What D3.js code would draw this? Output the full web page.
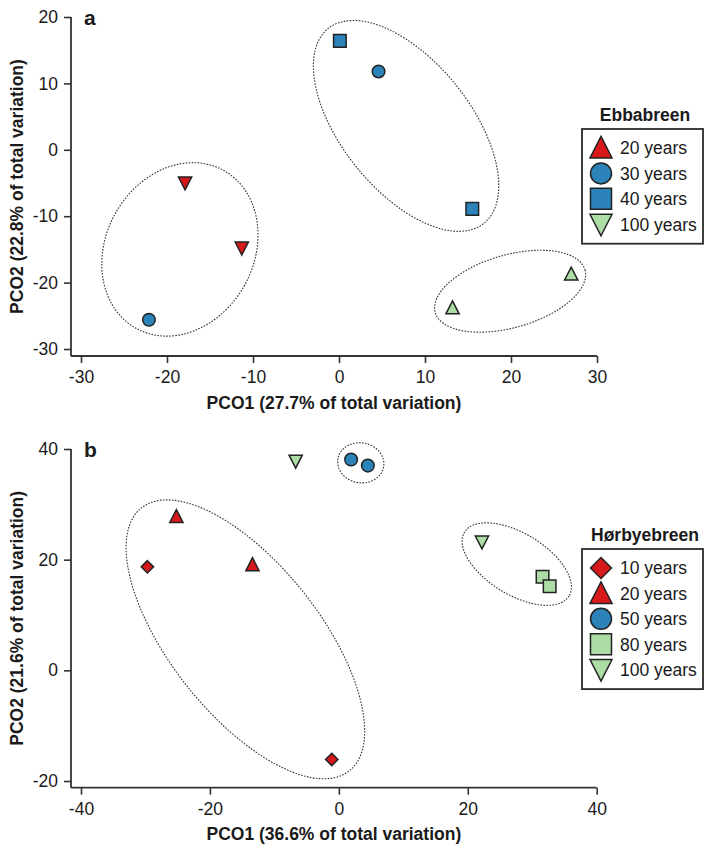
<!DOCTYPE html>
<html>
<head>
<meta charset="utf-8">
<script src="https://cdn.jsdelivr.net/npm/d3@7"></script>
<style>
body { margin: 0; background: #fff; }
text { font-family: "Liberation Sans", Arial, sans-serif; fill: #1a1a1a; }
</style>
</head>
<body>
<svg width="705" height="847"></svg>
<script>
// ---- panel a: Ebbabreen ----
var ebbaLegend = ["20 years", "30 years", "40 years", "100 years"]
var ebbaLegendShape = ["triUp", "circle", "square", "triDown"]
var ebbaColor = ["#d7191c", "#2b83ba", "#2b83ba", "#abdda4"]
// each sample: age group, shape in the plot, PCO1, PCO2
var ebbaGroup = [0, 0, 1, 1, 2, 2, 3, 3]
var ebbaShape = ["triDown", "triDown", "circle", "circle", "square", "square", "triUp", "triUp"]
var ebbaX = [-17.9, -11.3, -22.1, 4.6, 0.1, 15.5, 13.2, 27.0]
var ebbaY = [-5.0, -14.8, -25.6, 11.8, 16.4, -8.9, -23.8, -18.7]
// cluster ellipses (centre in PCO units, radii in PCO1 units, angle in degrees)
var ebbaEllCx = [-18.5, 7.8, 19.9]
var ebbaEllCy = [-15.0, 3.6, -21.3]
var ebbaEllRx = [8.6, 7.5, 9.05]
var ebbaEllRy = [10.5, 14.5, 4.23]
var ebbaEllAng = [29, -38.6, -15.9]
var ebbaXTicks = [-30, -20, -10, 0, 10, 20, 30]
var ebbaYTicks = [-30, -20, -10, 0, 10, 20]

// ---- panel b: Hørbyebreen ----
var horbyLegend = ["10 years", "20 years", "50 years", "80 years", "100 years"]
var horbyLegendShape = ["diamond", "triUp", "circle", "square", "triDown"]
var horbyColor = ["#d7191c", "#d7191c", "#2b83ba", "#abdda4", "#abdda4"]
var horbyGroup = [0, 0, 1, 1, 2, 2, 3, 3, 4, 4]
var horbyShape = ["diamond", "diamond", "triUp", "triUp", "circle", "circle", "square", "square", "triDown", "triDown"]
var horbyX = [-29.7, -1.1, -25.2, -13.4, 1.9, 4.5, 31.6, 32.7, -6.7, 22.2]
var horbyY = [18.7, -16.1, 27.8, 19.1, 38.1, 37.0, 16.9, 15.2, 37.8, 23.2]
var horbyEllCx = [-14.5, 3.4, 27.6]
var horbyEllCy = [5.6, 37.5, 19.2]
var horbyEllRx = [11.6, 3.6, 9.5]
var horbyEllRy = [26.0, 3.1, 4.76]
var horbyEllAng = [-38.3, 10, 31.4]
var horbyXTicks = [-40, -20, 0, 20, 40]
var horbyYTicks = [-20, 0, 20, 40]

var svg = d3.select("svg")

function shape(type, s) {
    var p = d3.path()
    if (type == "circle") {
        p.moveTo(s, 0); p.arc(0, 0, s, 0, 2 * Math.PI)
    } else if (type == "square") {
        p.rect(-s, -s, 2 * s, 2 * s)
    } else if (type == "triUp") {
        p.moveTo(0, -s * 1.1); p.lineTo(s * 1.05, s * 0.95); p.lineTo(-s * 1.05, s * 0.95); p.closePath()
    } else if (type == "triDown") {
        p.moveTo(0, s * 1.1); p.lineTo(s * 1.05, -s * 0.95); p.lineTo(-s * 1.05, -s * 0.95); p.closePath()
    } else {
        p.moveTo(0, -s); p.lineTo(s, 0); p.lineTo(0, s); p.lineTo(-s, 0); p.closePath()
    }
    return p.toString()
}

// plain hyphen for negative ticks, like the original
var fmt = function(d) { return String(d) }

function drawPanel(cfg) {
    var x = d3.scaleLinear().domain(cfg.xDomain).range(cfg.xRange)
    var y = d3.scaleLinear().domain(cfg.yDomain).range(cfg.yRange)
    var g = svg.append("g")

    // axes
    var xAxis = g.append("g").attr("transform", "translate(0," + cfg.xAxisY + ")")
        .call(d3.axisBottom(x).tickValues(cfg.xTicks).tickFormat(fmt).tickSize(7).tickPadding(8).tickSizeOuter(0))
    var yAxis = g.append("g").attr("transform", "translate(" + cfg.yAxisX + ",0)")
        .call(d3.axisLeft(y).tickValues(cfg.yTicks).tickFormat(fmt).tickSize(7).tickPadding(6).tickSizeOuter(0))
    g.selectAll(".domain").remove()
    xAxis.append("line").attr("x1", cfg.yAxisX).attr("x2", x.range()[1])
    yAxis.append("line").attr("y1", y.range()[1]).attr("y2", cfg.xAxisY)
    g.selectAll(".tick line").attr("stroke", "#333").attr("stroke-width", 1.6)
    xAxis.select(":scope > line").attr("stroke", "#333").attr("stroke-width", 1.8)
    yAxis.select(":scope > line").attr("stroke", "#333").attr("stroke-width", 1.8)
    g.selectAll(".tick text").attr("font-size", 17.5).attr("font-family", "Liberation Sans, Arial, sans-serif").attr("fill", "#1a1a1a")

    g.append("text")
        .attr("x", (cfg.yAxisX + x.range()[1]) / 2)
        .attr("y", cfg.xAxisY + 52.5)
        .attr("text-anchor", "middle").attr("font-weight", "bold").attr("font-size", 17.5)
        .text(cfg.xTitle)
    g.append("text")
        .attr("transform", "translate(22.7," + (y.range()[1] + cfg.xAxisY) / 2 + ") rotate(-90)")
        .attr("text-anchor", "middle").attr("font-weight", "bold").attr("font-size", 17.5)
        .text(cfg.yTitle)
    g.append("text")
        .attr("x", cfg.yAxisX + 13).attr("y", y.range()[1] + 7.5)
        .attr("font-weight", "bold").attr("font-size", 21)
        .text(cfg.label)

    // cluster ellipses
    var unit = x(1) - x(0)
    g.selectAll(".ell").data(cfg.ellCx).enter().append("ellipse")
        .attr("class", "ell")
        .attr("transform", function(d, i) {
            return "translate(" + x(d) + "," + y(cfg.ellCy[i]) + ") rotate(" + cfg.ellAng[i] + ")"
        })
        .attr("rx", function(d, i) { return cfg.ellRx[i] * unit })
        .attr("ry", function(d, i) { return cfg.ellRy[i] * unit })
        .attr("fill", "none").attr("stroke", "#333").attr("stroke-width", 1.1)
        .attr("stroke-dasharray", "1.6,1.4")

    // samples
    g.selectAll(".pt").data(cfg.px).enter().append("path")
        .attr("class", "pt")
        .attr("transform", function(d, i) { return "translate(" + x(d) + "," + y(cfg.py[i]) + ")" })
        .attr("d", function(d, i) { return shape(cfg.shape[i], cfg.shape[i] == "diamond" ? 6.2 : 6.3) })
        .attr("fill", function(d, i) { return cfg.color[cfg.group[i]] })
        .attr("stroke", "#222").attr("stroke-width", 1.5)

    // legend
    var n = cfg.legend.length
    var lg = g.append("g")
    lg.append("text").attr("x", 645).attr("y", cfg.legendTop - 8.5)
        .attr("text-anchor", "middle").attr("font-weight", "bold").attr("font-size", 17.5)
        .text(cfg.legendTitle)
    lg.append("rect").attr("x", 582).attr("y", cfg.legendTop)
        .attr("width", 121).attr("height", 19 + 25.4 * (n - 1) + 19.5)
        .attr("fill", "#fff").attr("stroke", "#2a2a2a").attr("stroke-width", 1.8)
    var rows = lg.selectAll(".row").data(cfg.legend).enter().append("g")
        .attr("transform", function(d, i) { return "translate(601," + (cfg.legendTop + 19 + i * 25.4) + ")" })
    rows.append("path")
        .attr("d", function(d, i) { return shape(cfg.legendShape[i], 10.5) })
        .attr("fill", function(d, i) { return cfg.color[i] })
        .attr("stroke", "#222").attr("stroke-width", 1.5)
    rows.append("text").attr("x", 19).attr("dy", "0.36em").attr("font-size", 17.5)
        .text(function(d) { return d })
}

drawPanel({
    xDomain: [-30, 30], xRange: [81, 597], yDomain: [-30, 20], yRange: [349, 17],
    xAxisY: 356, yAxisX: 71, xTicks: ebbaXTicks, yTicks: ebbaYTicks,
    xTitle: "PCO1 (27.7% of total variation)", yTitle: "PCO2 (22.8% of total variation)", label: "a",
    ellCx: ebbaEllCx, ellCy: ebbaEllCy, ellRx: ebbaEllRx, ellRy: ebbaEllRy, ellAng: ebbaEllAng,
    px: ebbaX, py: ebbaY, shape: ebbaShape, group: ebbaGroup,
    legend: ebbaLegend, legendShape: ebbaLegendShape, color: ebbaColor,
    legendTitle: "Ebbabreen", legendTop: 129
})

drawPanel({
    xDomain: [-40, 40], xRange: [81, 596.7], yDomain: [-20, 40], yRange: [781, 449],
    xAxisY: 787.7, yAxisX: 71, xTicks: horbyXTicks, yTicks: horbyYTicks,
    xTitle: "PCO1 (36.6% of total variation)", yTitle: "PCO2 (21.6% of total variation)", label: "b",
    ellCx: horbyEllCx, ellCy: horbyEllCy, ellRx: horbyEllRx, ellRy: horbyEllRy, ellAng: horbyEllAng,
    px: horbyX, py: horbyY, shape: horbyShape, group: horbyGroup,
    legend: horbyLegend, legendShape: horbyLegendShape, color: horbyColor,
    legendTitle: "Hørbyebreen", legendTop: 549
})
</script>
</body>
</html>
